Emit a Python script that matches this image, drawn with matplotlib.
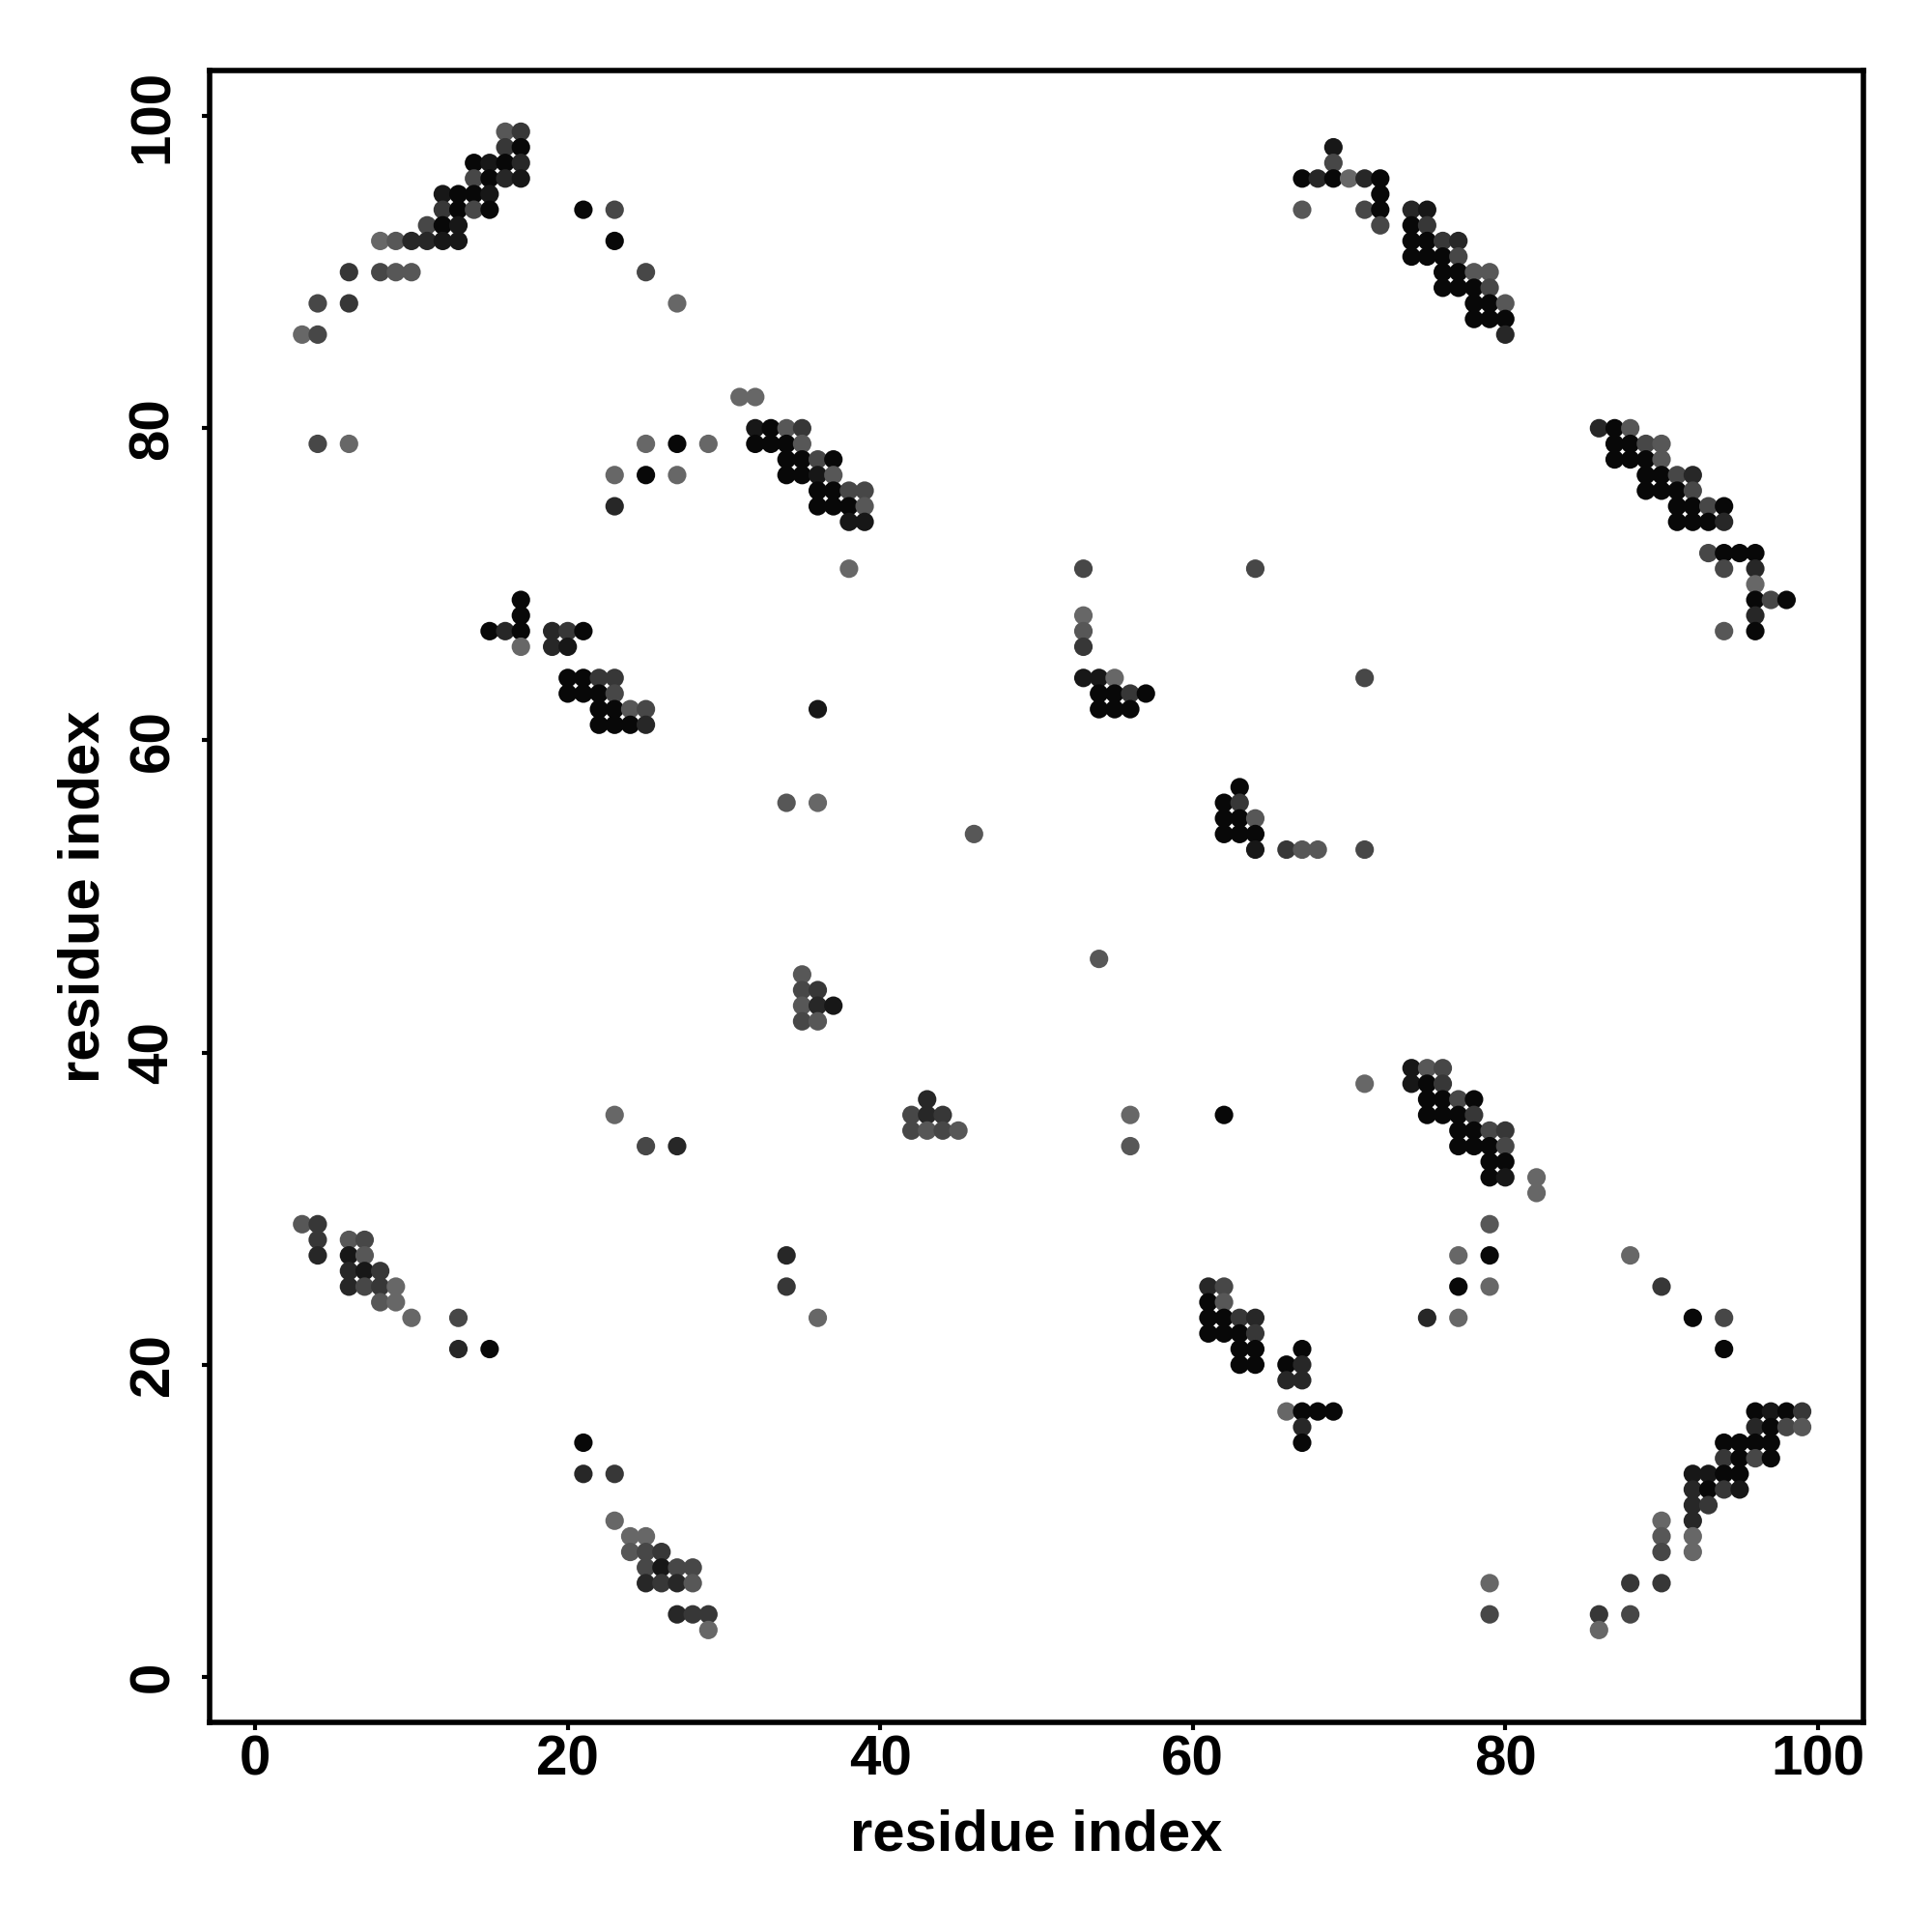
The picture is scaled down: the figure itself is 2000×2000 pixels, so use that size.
import matplotlib
matplotlib.use("Agg")
import matplotlib.pyplot as plt


# contact map rows: residue j, the residues i in contact, and grey shade level
# (0 = black ... 6 = light grey)
ROW_J = [
    99, 98, 97, 96, 95, 94, 93, 92, 91, 90, 89, 88, 87, 86, 82, 80, 79, 78, 77,
    76, 75, 74, 72, 71, 70, 69, 68, 67, 66, 64, 63, 62, 61, 57, 56, 55, 54, 53,
    46, 45, 44, 43, 42, 39, 38, 37, 36, 35, 34, 33, 32, 31, 29, 28, 27, 26, 25,
    24, 23, 22, 21, 20, 19, 17, 16, 15, 14, 13, 12, 11, 10, 9, 8, 7, 6, 4, 3,
]

ROW_I = [
    [16, 17],
    [16, 17, 69],
    [14, 15, 16, 17, 69],
    [14, 15, 16, 17, 67, 68, 69, 70, 71, 72],
    [12, 13, 14, 15, 72],
    [12, 13, 14, 15, 21, 23, 67, 71, 72, 74, 75],
    [11, 12, 13, 72, 74, 75],
    [8, 9, 10, 11, 12, 13, 23, 74, 75, 76, 77],
    [74, 75, 76, 77],
    [6, 8, 9, 10, 25, 76, 77, 78, 79],
    [76, 77, 78, 79],
    [4, 6, 27, 78, 79, 80],
    [78, 79, 80],
    [3, 4, 80],
    [31, 32],
    [32, 33, 34, 35, 86, 87, 88],
    [4, 6, 25, 27, 29, 32, 33, 34, 35, 87, 88, 89, 90],
    [34, 35, 36, 37, 87, 88, 89, 90],
    [23, 25, 27, 34, 35, 36, 37, 89, 90, 91, 92],
    [36, 37, 38, 39, 89, 90, 91, 92],
    [23, 36, 37, 38, 39, 91, 92, 93, 94],
    [38, 39, 91, 92, 93, 94],
    [93, 94, 95, 96],
    [38, 53, 64, 94, 96],
    [96],
    [17, 96, 97, 98],
    [17, 53, 96],
    [15, 16, 17, 19, 20, 21, 53, 94, 96],
    [17, 19, 20, 53],
    [20, 21, 22, 23, 53, 54, 55, 71],
    [20, 21, 22, 23, 54, 55, 56, 57],
    [22, 23, 24, 25, 36, 54, 55, 56],
    [22, 23, 24, 25],
    [63],
    [34, 36, 62, 63],
    [62, 63, 64],
    [46, 62, 63, 64],
    [64, 66, 67, 68, 71],
    [54],
    [35],
    [35, 36],
    [35, 36, 37],
    [35, 36],
    [74, 75, 76],
    [71, 74, 75, 76],
    [43, 75, 76, 77, 78],
    [23, 42, 43, 44, 56, 62, 75, 76, 77, 78],
    [42, 43, 44, 45, 77, 78, 79, 80],
    [25, 27, 56, 77, 78, 79, 80],
    [79, 80],
    [79, 80, 82],
    [82],
    [3, 4, 79],
    [4, 6, 7],
    [4, 6, 7, 34, 77, 79, 88],
    [6, 7, 8],
    [6, 7, 8, 9, 34, 61, 62, 77, 79, 90],
    [8, 9, 61, 62],
    [10, 13, 36, 61, 62, 63, 64, 75, 77, 92, 94],
    [61, 62, 63, 64],
    [13, 15, 63, 64, 67, 94],
    [63, 64, 66, 67],
    [66, 67],
    [66, 67, 68, 69, 96, 97, 98, 99],
    [67, 96, 97, 98, 99],
    [21, 67, 94, 95, 96, 97],
    [94, 95, 96, 97],
    [21, 23, 92, 93, 94, 95],
    [92, 93, 94, 95],
    [92, 93],
    [23, 90, 92],
    [24, 25, 90, 92],
    [24, 25, 26, 90, 92],
    [25, 26, 27, 28],
    [25, 26, 27, 28, 79, 88, 90],
    [27, 28, 29, 79, 86, 88],
    [29, 86],
]

ROW_SHADE = [
    [5, 3],
    [3, 0, 1],
    [0, 1, 0, 2, 4],
    [4, 0, 2, 1, 0, 2, 0, 6, 2, 0],
    [1, 0, 0, 1, 0],
    [3, 0, 4, 0, 0, 4, 5, 4, 0, 2, 1],
    [4, 0, 1, 4, 0, 3],
    [6, 5, 2, 2, 1, 1, 0, 0, 0, 3, 2],
    [0, 0, 0, 4],
    [3, 4, 5, 5, 4, 0, 0, 5, 5],
    [0, 0, 0, 4],
    [4, 3, 6, 0, 0, 5],
    [0, 0, 0],
    [6, 4, 2],
    [6, 6],
    [1, 0, 5, 3, 2, 0, 5],
    [4, 6, 6, 0, 6, 0, 0, 0, 5, 0, 0, 4, 5],
    [0, 0, 4, 0, 0, 0, 0, 5],
    [6, 0, 6, 0, 0, 1, 5, 0, 0, 4, 2],
    [0, 0, 4, 4, 0, 0, 0, 4],
    [2, 0, 0, 0, 5, 0, 0, 4, 0],
    [1, 1, 0, 0, 0, 2],
    [4, 0, 0, 0],
    [6, 4, 4, 4, 2],
    [6],
    [0, 0, 4, 0],
    [0, 6, 2],
    [0, 2, 0, 2, 3, 0, 5, 5, 0],
    [6, 2, 1, 3],
    [0, 0, 3, 3, 1, 1, 6, 4],
    [0, 0, 0, 4, 0, 0, 3, 0],
    [0, 0, 5, 4, 1, 0, 0, 0],
    [0, 0, 0, 2],
    [0],
    [5, 6, 0, 3],
    [0, 0, 5],
    [5, 0, 0, 0],
    [1, 3, 5, 5, 4],
    [5],
    [5],
    [4, 3],
    [5, 2, 1],
    [4, 5],
    [1, 5, 4],
    [6, 1, 0, 3],
    [2, 0, 0, 4, 0],
    [6, 4, 2, 3, 6, 0, 0, 0, 0, 3],
    [4, 5, 4, 5, 0, 0, 4, 3],
    [4, 2, 5, 0, 0, 0, 4],
    [0, 0],
    [0, 1, 6],
    [6],
    [5, 3, 5],
    [3, 5, 4],
    [2, 1, 5, 2, 6, 0, 6],
    [2, 1, 3],
    [2, 4, 3, 6, 3, 2, 4, 0, 6, 3],
    [5, 6, 0, 5],
    [6, 4, 6, 0, 0, 3, 2, 2, 6, 0, 4],
    [0, 0, 0, 3],
    [2, 0, 0, 0, 0, 0],
    [0, 0, 0, 2],
    [2, 2],
    [6, 0, 0, 0, 0, 1, 0, 3],
    [2, 2, 0, 4, 5],
    [0, 0, 0, 0, 0, 0],
    [3, 0, 4, 0],
    [2, 3, 1, 1, 0, 0],
    [2, 0, 3, 1],
    [2, 3],
    [6, 6, 2],
    [6, 6, 5, 6],
    [5, 4, 3, 4, 6],
    [4, 1, 4, 4],
    [2, 3, 2, 5, 6, 3, 3],
    [2, 3, 3, 4, 3, 4],
    [6, 6],
]

TICKS = [0, 20, 40, 60, 80, 100]


def main() -> None:
    plt.rcParams["font.family"] = ["Liberation Sans", "DejaVu Sans"]
    plt.rcParams["font.weight"] = "bold"
    plt.rcParams["axes.labelweight"] = "bold"

    xs, ys, greys = [], [], []
    for j, row_i, row_s in zip(ROW_J, ROW_I, ROW_SHADE):
        for i, s in zip(row_i, row_s):
            xs.append(i)
            ys.append(j)
            greys.append(str(0.03 + 0.062 * s))

    fig = plt.figure(figsize=(20, 20), dpi=100)
    ax = fig.add_axes([0.1085, 0.1085, 0.856, 0.855])

    ax.scatter(xs, ys, s=190, c=greys, edgecolors="none")

    ax.set_xlim(-2.92, 102.92)
    ax.set_ylim(-2.92, 102.92)
    ax.set_xticks(TICKS)
    ax.set_yticks(TICKS)

    for spine in ax.spines.values():
        spine.set_linewidth(4)

    ax.tick_params(direction="out", length=5.8, width=3, labelsize=42)
    ax.tick_params(axis="x", pad=3.5)
    ax.tick_params(axis="y", pad=16.5)
    plt.setp(ax.get_yticklabels(), rotation=90, va="center")

    ax.set_xlabel("residue index", fontsize=43)
    ax.set_ylabel("residue index", fontsize=43)
    ax.xaxis.set_label_coords(0.5, -0.0526)
    ax.yaxis.set_label_coords(-0.0598, 0.5)

    fig.savefig("out.png", dpi=100)


if __name__ == "__main__":
    main()
